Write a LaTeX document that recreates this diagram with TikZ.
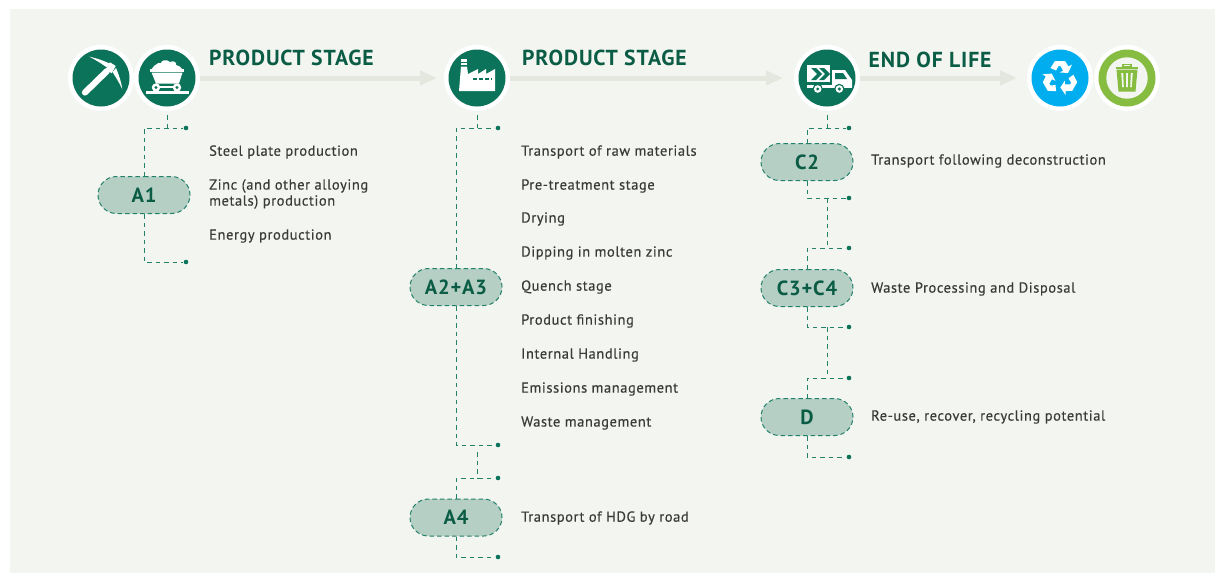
\documentclass[tikz,border=0pt]{standalone}
\usepackage{fontspec}
\setmainfont{PT Sans}
\usetikzlibrary{shapes.misc,arrows.meta}
\definecolor{panel}{HTML}{F3F5F1}
\definecolor{iconG}{HTML}{0B7359}
\definecolor{headG}{HTML}{0B5C45}
\definecolor{pillG}{HTML}{B5CFC5}
\definecolor{arrowG}{HTML}{E4E7DE}
\definecolor{txt}{HTML}{3A3A38}
\definecolor{recB}{HTML}{00AEEF}
\definecolor{binG}{HTML}{86BC40}
\newfontfamily\bodyf[LetterSpace=4,FakeBold=0.35]{PT Sans}
\newfontfamily\headf[LetterSpace=4]{PT Sans}
\tikzset{
 x=1pt,y=-1pt,
 stagearrow/.style={draw=arrowG,line width=5pt,-{Triangle[length=17pt,width=14pt,color=arrowG]}},
 halo/.style={circle,fill=white,minimum size=66pt,inner sep=0pt},
 dashline/.style={draw=iconG!90!white,line width=0.9pt,dash pattern=on 4.5pt off 4pt},
 pillbox/.style={rounded rectangle,fill=pillG,draw=iconG!90!white,line width=1pt,dash pattern=on 4.5pt off 3pt,minimum width=92pt,minimum height=37pt,inner sep=0pt,text=headG,font=\headf\bfseries\fontsize{20.5}{20}\selectfont},
 stagehead/.style={anchor=west,text=headG,inner sep=0pt,font=\headf\bfseries\fontsize{21.7}{22}\selectfont},
 itemtext/.style={anchor=west,text=txt,inner sep=0pt,align=left,font=\bodyf\fontsize{14.5}{16}\selectfont},
 enddot/.style={circle,fill=iconG,minimum size=4.6pt,inner sep=0pt},
}
\newcommand{\disc}[3]{\node[halo] (#1h) at (#2) {};\node[circle,fill=#3,minimum size=57pt,inner sep=0pt] (#1) at (#2) {};}
\begin{document}
\begin{tikzpicture}
\useasboundingbox (0,0) rectangle (1215,573);
\fill[white] (0,0) rectangle (1215,573);
\fill[panel] (10,9) rectangle (1215,573);

% stage arrows
\coordinate (s1) at (199,78);\coordinate (e1) at (437,78);
\coordinate (s2) at (508,78);\coordinate (e2) at (783,78);
\coordinate (s3) at (858,78);\coordinate (e3) at (1017,78);
\draw[stagearrow] (s1)--(e1);
\draw[stagearrow] (s2)--(e2);
\draw[stagearrow] (s3)--(e3);

% discs
\disc{pick}{101,78}{iconG}
\disc{cart}{167,78}{iconG}
\disc{fact}{477,78}{iconG}
\disc{truck}{827,78}{iconG}
\disc{recy}{1060,78}{recB}
\disc{bin}{1127,78}{binG}

% pickaxe
\begin{scope}[shift={(101,78)}]
 \draw[white,line width=6.2pt,line cap=round] (-16,14.5)--(6,-7);
 \fill[white] (5,-8.7) -- (9,-15.7) -- (14.7,-12) -- (10.7,-4.7) -- cycle;
 \fill[white] (-11.7,-21.3) .. controls (-3,-19.5) and (3,-17) .. (8.5,-14.5) -- (6,-10.5) .. controls (1,-14) and (-5,-18) .. cycle;
 \fill[white] (21.3,11.3) .. controls (20,3) and (18,-3) .. (15,-10) -- (11.5,-6) .. controls (14,-2) and (18,4) .. cycle;
\end{scope}

% mine cart
\begin{scope}[shift={(167,78)}]
 \fill[white] (-16,-8) -- (-13,-12) .. controls (-10,-12) and (-11,-16) .. (-6,-15) .. controls (-6,-18) and (0,-19) .. (3,-16) .. controls (7,-18) and (10,-15) .. (9,-13) .. controls (12,-13) and (13,-11) .. (15,-9) -- cycle;
 \fill[white] (-17,-9) rectangle (17,-6.5);
 \fill[white] (-15.5,-5.5) -- (15.5,-5.5) -- (12,5.5) -- (-11,5.5) -- cycle;
 \fill[white] (-21,13) rectangle (22,15.5);
 \fill[white] (-11,9.5) circle (4.2);
 \fill[white] (10,9.5) circle (4.2);
 \fill[white] (-11,8) rectangle (10,10);
 \fill[iconG] (-11,9.5) circle (1.7);
 \fill[iconG] (10,9.5) circle (1.7);
\end{scope}

% factory
\begin{scope}[shift={(477,78)}]
 \fill[white] (-16,-19) rectangle (-10,-16.5);
 \fill[white] (-16,-15) rectangle (-10,-13);
 \fill[white] (-16,-11.5) -- (-10,-11.5) -- (-9,-4) -- (1,-9) -- (1,-4) -- (9,-9) -- (9,-4) -- (18,-9) -- (18,13) -- (-18,13) -- cycle;
 \fill[iconG] (-4,0) rectangle (0,1.5);
 \fill[iconG] (2,0) rectangle (6,1.5);
 \fill[iconG] (8,0) rectangle (12,1.5);
 \fill[iconG] (14,0) rectangle (15,1.5);
\end{scope}

% truck
\begin{scope}[shift={(827,78)}]
 \fill[white] (-20,-13) rectangle (2.7,3.7);
 \fill[iconG] (-16,-10) -- (-11,-10) -- (-5,-4) -- (-11,2) -- (-16,2) -- (-10,-4) -- cycle;
 \fill[iconG] (-8,-10) -- (-3,-10) -- (3,-4) -- (-3,2) -- (-8,2) -- (-2,-4) -- cycle;
 \fill[white] (-20,-13) rectangle (-17,3.7);
 \fill[white] (5,-8) -- (18,-8) -- (25,2) -- (25,9) -- (5,9) -- cycle;
 \fill[iconG] (8,-5) -- (16,-5) -- (20,1) -- (8,1) -- cycle;
 \fill[white] (-20,7) rectangle (25,9.5);
 \fill[iconG] (-9.3,11) circle (5.2);\fill[white] (-9.3,11) circle (3.8);\fill[iconG] (-9.3,11) circle (1.7);
 \fill[iconG] (12.3,11) circle (5.2);\fill[white] (12.3,11) circle (3.8);\fill[iconG] (12.3,11) circle (1.7);
\end{scope}

% recycling symbol
\begin{scope}[shift={(1060,78)}]
 \foreach \a in {0,120,240}{
  \begin{scope}[rotate=\a]
   \fill[white] (-9.5,-10) -- (-5,-17) -- (5,-17) -- (8.5,-11.5) -- (12,-13.5) -- (8,-5) -- (0,-5.5) -- (3,-7.5) -- (0.5,-12) -- (-1.5,-12) -- (-4,-7.5) -- cycle;
  \end{scope}}
\end{scope}

% bin
\begin{scope}[shift={(1127,78)}]
 \fill[panel] (0,0) circle (20.7);
 \fill[binG] (-11,-11.5) rectangle (11,-9.5);
 \fill[binG] (-5,-14) rectangle (5,-11);
 \fill[panel] (-3,-12.8) rectangle (3,-11.6);
 \fill[binG] (-10.5,-8.5) -- (10.5,-8.5) -- (8.5,13.5) -- (-8.5,13.5) -- cycle;
 \fill[panel] (-5.8,-5) -- (-3.8,-5) -- (-3.2,9) -- (-4.8,9) -- cycle;
 \fill[panel] (-1,-5) -- (1,-5) -- (0.8,9) -- (-0.8,9) -- cycle;
 \fill[panel] (3.8,-5) -- (5.8,-5) -- (4.8,9) -- (3.2,9) -- cycle;
\end{scope}

% headings
\node[stagehead] (h1) at (209,58) {PRODUCT STAGE};
\node[stagehead] (h2) at (522,58) {PRODUCT STAGE};
\node[stagehead] (h3) at (868.5,60) {END OF LIFE};

% pills
\node[pillbox] (a1) at (144,195) {A1};
\node[pillbox] (a23) at (456,287) {A2+A3};
\node[pillbox] (a4) at (456,517.5) {A4};
\node[pillbox] (c2) at (807,162) {C2};
\node[pillbox] (c34) at (807,288) {C3+C4};
\node[pillbox] (d) at (807,417) {D};

% stems from discs and between brackets
\coordinate (j1) at (167,128);\coordinate (j1s) at (167,115);
\coordinate (j2) at (477,128);\coordinate (j2s) at (477,115);
\coordinate (j3) at (827,128);\coordinate (j3s) at (827,115);
\draw[dashline] (j1s)--(j1);
\draw[dashline] (j2s)--(j2);
\draw[dashline] (j3s)--(j3);
\coordinate (k1) at (477,452);\coordinate (k1e) at (477,478);
\coordinate (k2) at (827,198);\coordinate (k2e) at (827,248);
\coordinate (k3) at (827,327);\coordinate (k3e) at (827,378);
\draw[dashline] (k1)--(k1e);
\draw[dashline] (k2)--(k2e);
\draw[dashline] (k3)--(k3e);

% bracket end points
\foreach \n/\x/\yt/\yb in {a1/144/128/262, a23/456/128/445, a4/456/478/557, c2/807/128/198, c34/807/248/327, d/807/378/457}{
 \coordinate (\n tl) at (\x,\yt);
 \coordinate (\n bl) at (\x,\yb);
 \pgfmathsetmacro{\xr}{\x+42}
 \coordinate (\n ts) at (\xr-3.5,\yt);
 \coordinate (\n bs) at (\xr-3.5,\yb);
 \draw[dashline] (\n.north) -- (\n tl) -- (\n ts);
 \draw[dashline] (\n.south) -- (\n bl) -- (\n bs);
 \node[enddot] (\n tr) at (\xr,\yt) {};
 \node[enddot] (\n br) at (\xr,\yb) {};
}

% items
\node[itemtext] (t1) at (209,152) {Steel plate production};
\node[itemtext] (t2) at (209,194) {Zinc (and other alloying\\metals) production};
\node[itemtext] (t3) at (209,236) {Energy production};
\node[itemtext] (t4) at (521,152) {Transport of raw materials};
\node[itemtext] (t5) at (521,186) {Pre-treatment stage};
\node[itemtext] (t6) at (521,219) {Drying};
\node[itemtext] (t7) at (521,253) {Dipping in molten zinc};
\node[itemtext] (t8) at (521,287) {Quench stage};
\node[itemtext] (t9) at (521,321) {Product finishing};
\node[itemtext] (t10) at (521,355) {Internal Handling};
\node[itemtext] (t11) at (521,389) {Emissions management};
\node[itemtext] (t12) at (521,423) {Waste management};
\node[itemtext] (t13) at (521,518) {Transport of HDG by road};
\node[itemtext] (t14) at (871,161) {Transport following deconstruction};
\node[itemtext] (t15) at (871,289) {Waste Processing and Disposal};
\node[itemtext] (t16) at (871,417) {Re-use, recover, recycling potential};
\end{tikzpicture}
\end{document}
